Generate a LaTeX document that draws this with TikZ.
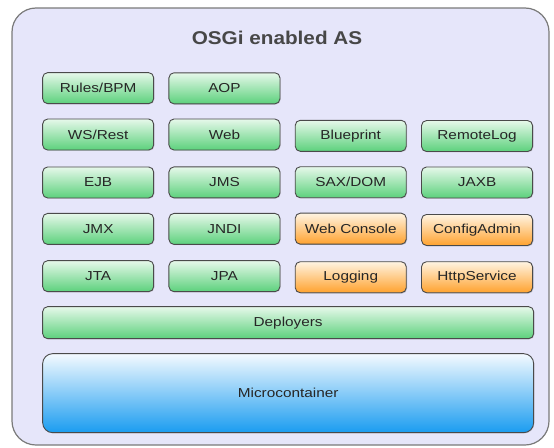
\documentclass[tikz,border=0pt]{standalone}
\usepackage{fontspec}
\setmainfont[FakeStretch=1.18]{Liberation Sans}
\newfontfamily\titlefont[FakeStretch=1.12]{Liberation Sans}
\usepackage{tikz}
\usetikzlibrary{matrix,positioning,shadows}
\definecolor{asback}{HTML}{E6E6FA}
\definecolor{asline}{HTML}{7A7A7A}
\definecolor{boxline}{HTML}{4A4A4A}
\definecolor{greentop}{HTML}{E6F8EA}
\definecolor{greenbot}{HTML}{5CD17C}
\definecolor{orangetop}{HTML}{FFF4E2}
\definecolor{orangebot}{HTML}{FFA22E}
\definecolor{bluetop}{HTML}{F4FAFF}
\definecolor{bluebot}{HTML}{1A9CF0}
\tikzset{
 layer/.style={draw=boxline, line width=0.9pt, rounded corners=5pt, inner sep=0pt, outer sep=0pt,
  minimum width=111pt, minimum height=31pt, text=black!85, font=\fontsize{13}{15}\selectfont,
  top color=greentop, bottom color=greenbot,
  drop shadow={shadow xshift=0.8pt, shadow yshift=-0.8pt, opacity=0.25}},
 osgi/.style={layer, top color=orangetop, bottom color=orangebot},
}

\begin{document}
\begin{tikzpicture}[x=1pt,y=-1pt]
 \useasboundingbox (0,0) rectangle (554,447);
 \node (as) [draw=asline, line width=1.2pt, fill=asback, rounded corners=24pt, minimum width=537pt, minimum height=437pt, inner sep=0pt] at (280.5,226.5) {};
 \node (title) [text=black!72] at (277,38) {\titlefont\fontsize{18.5}{20}\selectfont\bfseries OSGi enabled AS};
 \matrix (m) [matrix of nodes, nodes={layer}, row sep=14.3pt, column sep=14.4pt, inner sep=0pt, anchor=north west] at (42,72)
  {
    Rules/BPM & AOP & & \\
    WS/Rest & Web & Blueprint & RemoteLog \\
    EJB & JMS & SAX/DOM & JAXB \\
    JMX & JNDI & |[osgi]| Web Console & |[osgi]| ConfigAdmin \\
    JTA & JPA & |[osgi]| Logging & |[osgi]| HttpService \\
  };
 \node (dep) [layer, minimum width=491pt, minimum height=32pt, below right=15pt and 0pt of m-5-1.south west] {Deployers};
 \node (mc) [layer, minimum width=491pt, minimum height=79pt, rounded corners=10pt, top color=bluetop, bottom color=bluebot, below right=15pt and 0pt of dep.south west] {Microcontainer};
\end{tikzpicture}
\end{document}
